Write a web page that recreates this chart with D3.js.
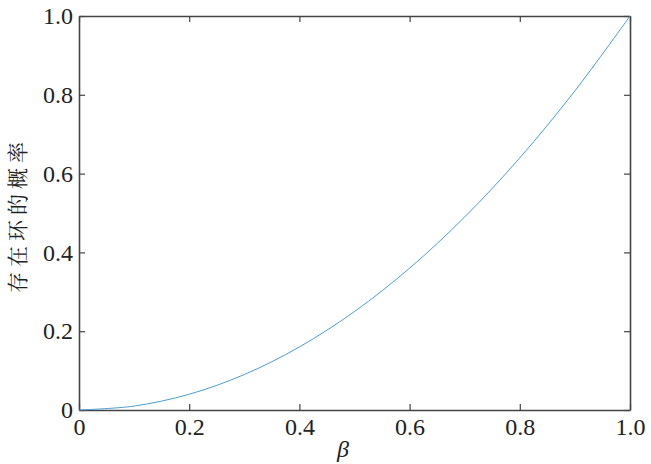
<!DOCTYPE html>
<html>
<head>
<meta charset="utf-8">
<script src="https://cdn.jsdelivr.net/npm/d3@7"></script>
<style>
  body { margin: 0; background: #fff; }
  svg { display: block; }
</style>
</head>
<body>
<svg id="chart" width="651" height="464"></svg>
<script>
  /* DATA */
  const betaValues = [0, 0.1, 0.2, 0.3, 0.4, 0.5, 0.6, 0.7, 0.8, 0.9, 1.0];
  const probValues = [0, 0.01, 0.04, 0.09, 0.16, 0.25, 0.36, 0.49, 0.64, 0.81, 1.0];
  const xTicks = [0, 0.2, 0.4, 0.6, 0.8, 1.0];
  const yTicks = [0, 0.2, 0.4, 0.6, 0.8, 1.0];
  const xLabels = ["0", "0.2", "0.4", "0.6", "0.8", "1.0"];
  const yLabels = ["0", "0.2", "0.4", "0.6", "0.8", "1.0"];

  const margin = { top: 16, right: 21, bottom: 54, left: 79 };
  const width = 651, height = 464;
  const serif = "'Liberation Serif', 'Times New Roman', serif";

  const svg = d3.select("#chart");

  const x = d3.scaleLinear().domain([0, 1]).range([margin.left, width - margin.right]);
  const y = d3.scaleLinear().domain([0, 1]).range([height - margin.bottom, margin.top]);

  const axisColor = "#444";

  // bottom axis - ticks inward
  const gx = svg.append("g")
    .attr("transform", `translate(0, ${y(0)})`)
    .call(d3.axisBottom(x).tickValues(xTicks).tickFormat((d, i) => xLabels[i]).tickSizeInner(-6).tickSizeOuter(0).tickPadding(8));

  // left axis
  const gy = svg.append("g")
    .attr("transform", `translate(${x(0)}, 0)`)
    .call(d3.axisLeft(y).tickValues(yTicks).tickFormat((d, i) => yLabels[i]).tickSizeInner(-6).tickSizeOuter(0).tickPadding(6));

  // top and right mirrored ticks, no labels
  const gt = svg.append("g")
    .attr("transform", `translate(0, ${y(1)})`)
    .call(d3.axisTop(x).tickValues(xTicks).tickFormat("").tickSizeInner(-6).tickSizeOuter(0));
  const gr = svg.append("g")
    .attr("transform", `translate(${x(1)}, 0)`)
    .call(d3.axisRight(y).tickValues(yTicks).tickFormat("").tickSizeInner(-6).tickSizeOuter(0));

  [gx, gy, gt, gr].forEach(g => {
    g.attr("font-family", serif).attr("font-size", 24);
    g.select(".domain").attr("stroke", axisColor).attr("stroke-width", 1.6);
    g.selectAll(".tick line").attr("stroke", axisColor).attr("stroke-width", 1.2);
    g.selectAll(".tick text").attr("fill", "#222");
  });

  // curve
  const points = betaValues.map((b, i) => [b, probValues[i]]);
  svg.append("path")
    .datum(points)
    .attr("fill", "none")
    .attr("stroke", "#4a9fd4")
    .attr("stroke-width", 1)
    .attr("d", d3.line().x(d => x(d[0])).y(d => y(d[1])).curve(d3.curveCatmullRom));

  // axis titles
  svg.append("text")
    .attr("x", 343)
    .attr("y", 457)
    .attr("text-anchor", "middle")
    .attr("font-family", serif)
    .attr("font-style", "italic")
    .attr("font-size", 24)
    .attr("fill", "#222")
    .text("β");

  svg.append("text")
    .attr("transform", `translate(25, ${(y(0) + y(1)) / 2 + 2}) rotate(-90)`)
    .attr("text-anchor", "middle")
    .attr("font-family", "'Noto Serif CJK SC', serif")
    .attr("font-size", 21)
    .attr("letter-spacing", 5)
    .attr("fill", "#222")
    .text("存在环的概率");
</script>
</body>
</html>
